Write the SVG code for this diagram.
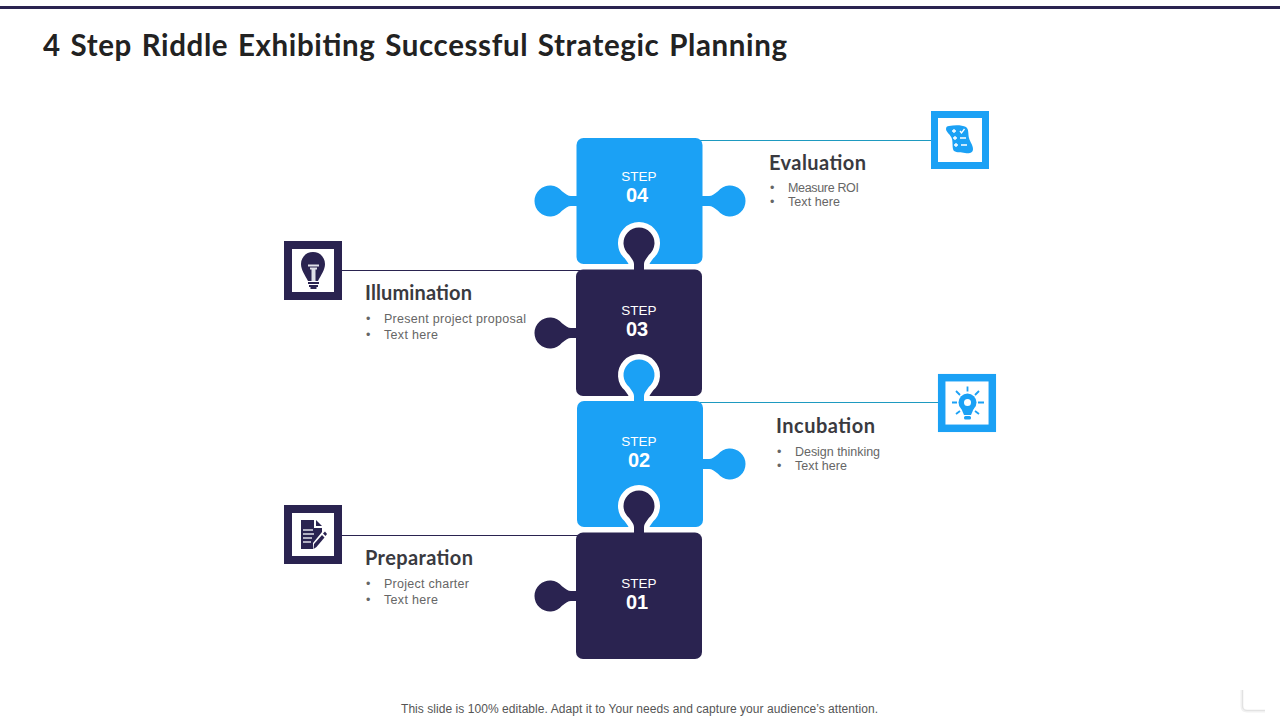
<svg xmlns="http://www.w3.org/2000/svg" width="1280" height="720" viewBox="0 0 1280 720">
<style>
.sans{font-family:"Liberation Sans",Arial,sans-serif}
.title{font-family:Lato,"Open Sans",sans-serif;font-weight:700;font-size:29.5px;fill:#222;word-spacing:2px}
.head{font-family:Lato,"Open Sans",sans-serif;font-weight:700;font-size:20px;fill:#3a3a3f}
.body{font-family:"Liberation Sans",Arial,sans-serif;font-size:12.5px;fill:#666}
.step{font-family:"Liberation Sans",Arial,sans-serif;font-size:13.5px;fill:#fff;text-anchor:middle}
.num{font-family:"Liberation Sans",Arial,sans-serif;font-size:20px;font-weight:700;fill:#fff;text-anchor:middle}
.blue{fill:#1ba1f5}.navy{fill:#2a2350}
.halo{stroke:#fff;stroke-width:11;stroke-linejoin:round}
.lb{stroke:#1e9ac0;stroke-width:1.2;fill:none}.ln{stroke:#2a2350;stroke-width:1.2;fill:none}
</style>
<defs>
<path id="tab" d="M2 -5H-6C-9 -5 -11 -7 -15 -9.800A15.500 15.500 0 1 0 -15 9.800C-11 7 -9 5 -6 5H2Z"/>
</defs>
<rect x="0" y="6" width="1280" height="3" fill="#2a2350"/>
<text class="title" x="43" y="56" textLength="744">4 Step Riddle Exhibiting Successful Strategic Planning</text>
<g id="connectors">
<path class="lb" d="M700 140.500H932"/>
<path class="ln" d="M341 270.500H580"/>
<path class="lb" d="M700 402.500H940"/>
<path class="ln" d="M341 535.500H580"/>
</g>
<g id="step-04">
<rect class="blue" x="576.500" y="138" width="126" height="126" rx="7"/>
<use href="#tab" class="blue" transform="translate(577 201)"/>
<use href="#tab" class="blue" transform="translate(703 201) scale(-1 1)"/>
<text class="step" x="639" y="181">STEP</text><text class="num" x="637" y="202">04</text>
</g>
<g id="step-03">
<use href="#tab" class="navy halo" transform="translate(639 270) rotate(90)"/>
<use href="#tab" class="navy" transform="translate(639 270) rotate(90)"/>
<rect class="navy" x="576" y="269.500" width="126" height="126.500" rx="7"/>
<use href="#tab" class="navy" transform="translate(577 333)"/>
<text class="step" x="639" y="315">STEP</text><text class="num" x="637" y="336">03</text>
</g>
<g id="step-02">
<use href="#tab" class="blue halo" transform="translate(639 402) rotate(90)"/>
<use href="#tab" class="blue" transform="translate(639 402) rotate(90)"/>
<rect class="blue" x="577" y="401" width="126" height="126" rx="7"/>
<use href="#tab" class="blue" transform="translate(703 464) scale(-1 1)"/>
<text class="step" x="639" y="446">STEP</text><text class="num" x="639" y="467">02</text>
</g>
<g id="step-01">
<use href="#tab" class="navy halo" transform="translate(639 533) rotate(90)"/>
<use href="#tab" class="navy" transform="translate(639 533) rotate(90)"/>
<rect class="navy" x="576" y="532.500" width="126" height="126.500" rx="7"/>
<use href="#tab" class="navy" transform="translate(577 596)"/>
<text class="step" x="639" y="588">STEP</text><text class="num" x="637" y="609">01</text>
</g>
<g id="label-evaluation">
<text class="head" x="769" y="170" textLength="97">Evaluation</text>
<text class="body" x="770" y="192">•</text><text class="body" x="788" y="192" textLength="71">Measure ROI</text>
<text class="body" x="770" y="206">•</text><text class="body" x="788" y="206" textLength="52">Text here</text>
</g>
<g id="label-illumination">
<text class="head" x="365" y="300" textLength="107">Illumination</text>
<text class="body" x="366" y="323">•</text><text class="body" x="384" y="323" textLength="142">Present project proposal</text>
<text class="body" x="366" y="339">•</text><text class="body" x="384" y="339" textLength="54">Text here</text>
</g>
<g id="label-incubation">
<text class="head" x="776" y="433" textLength="99">Incubation</text>
<text class="body" x="777" y="456">•</text><text class="body" x="795" y="456" textLength="85">Design thinking</text>
<text class="body" x="777" y="470">•</text><text class="body" x="795" y="470" textLength="52">Text here</text>
</g>
<g id="label-preparation">
<text class="head" x="365" y="565" textLength="108">Preparation</text>
<text class="body" x="366" y="588">•</text><text class="body" x="384" y="588" textLength="85">Project charter</text>
<text class="body" x="366" y="604">•</text><text class="body" x="384" y="604" textLength="54">Text here</text>
</g>
<g id="icon-evaluation">
<rect x="934.500" y="114.500" width="51" height="51" fill="#fff" stroke="#1ba1f5" stroke-width="7"/>
<path class="blue" d="M949 126C955 125 962 125 966 127C969 129 968 134 969 138C970 142 973 145 973 149C973 153 969 154 965 153C961 152 957 153 954 151C952 149 953 143 952 139C951 135 946 132 946 129C946 127 947 126 949 126Z"/>
<path d="M952 131h4M954 129v4M953 138h4M955 136v4M954 145h4M956 143v4M960 131l1.500 2 3-4M960 138h6M961 145h6" fill="none" stroke="#fff" stroke-width="1.300"/>
</g>
<g id="icon-incubation">
<rect x="941.700" y="377.700" width="50.600" height="50.600" fill="#fff" stroke="#1ba1f5" stroke-width="7.500"/>
<circle class="blue" cx="967.500" cy="402.500" r="9"/><circle cx="967.500" cy="402.500" r="3.500" fill="#fff"/>
<path class="blue" d="M961 408H974L971 415H964Z"/><rect class="blue" x="964" y="416" width="7" height="3.500" rx="1.500"/>
<path d="M967.500 386.500v5M956 391l4 4M979 391l-4 4M952 402.500h5M978 402.500h6M956 414l4-3M979 414l-4-3" stroke="#1ba1f5" stroke-width="1.800" fill="none"/>
</g>
<g id="icon-illumination">
<rect x="288" y="245" width="50" height="51" fill="#fff" stroke="#2a2350" stroke-width="8"/>
<path class="navy" d="M313 252C305.500 252 301 258 301 264C301 270 305 275 308 281H318C321 275 325 270 325 264C325 258 320.500 252 313 252Z"/>
<path d="M308 265.500h11M310 268.500h7" stroke="#dfe0e8" stroke-width="2" fill="none"/><path d="M313.500 268v13" stroke="#dfe0e8" stroke-width="4" fill="none"/>
<path d="M308 283h11M309 286h9" stroke="#2a2350" stroke-width="2" fill="none"/><rect class="navy" x="310.500" y="287" width="6" height="2"/>
</g>
<g id="icon-preparation">
<rect x="288" y="509" width="50" height="51" fill="#fff" stroke="#2a2350" stroke-width="8"/>
<path class="navy" d="M301 520H314V528H322V532L313 543V549H301Z"/><path class="navy" d="M316 520L322 526H316Z"/>
<path d="M303 530h10M303 534h11M303 538h9M303 542h8" stroke="#dfe0e8" stroke-width="1.400" fill="none"/>
<path class="navy" d="M314 544L322 535L324.500 537.500L316.500 547L313.500 549Z"/>
<path class="navy" d="M323 533.500L325 531.500L327 534L325.500 536Z"/>
</g>
<text class="sans" x="401" y="713" font-size="12" fill="#555" textLength="477">This slide is 100% editable. Adapt it to Your needs and capture your audience’s attention.</text>
<path d="M1242 690V706Q1242 711 1247 711H1265" fill="none" stroke="#f1f1f1" stroke-width="3"/>
<path d="M1242.500 690V706Q1242.500 710.500 1247 710.500H1265" fill="none" stroke="#e2e2e2" stroke-width="1"/>
</svg>
